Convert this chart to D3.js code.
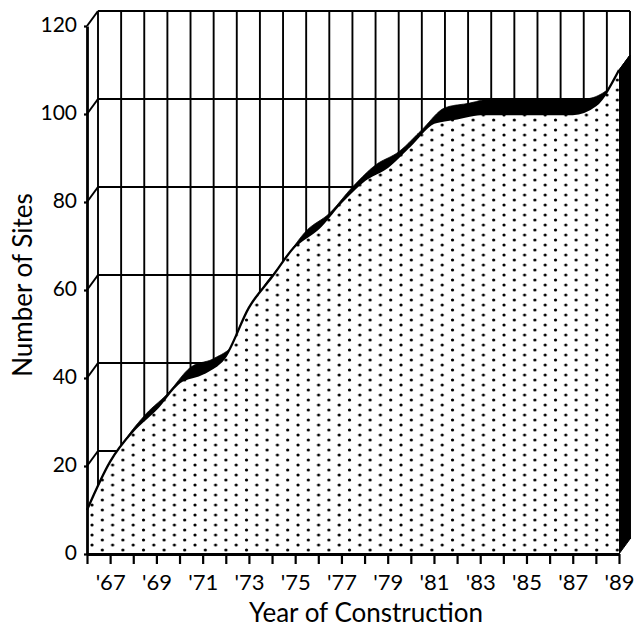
<!DOCTYPE html>
<html><head><meta charset="utf-8">
<script src="https://cdn.jsdelivr.net/npm/d3@7"></script>
<style>body{margin:0;background:#fff}</style>
</head><body>
<svg id="c" width="636" height="627"></svg>
<script>
// ---- data ----
const years = [1966,1967,1968,1969,1970,1971,1972,1973,1974,1975,1976,1977,1978,1979,1980,1981,1982,1983,1984,1985,1986,1987,1988,1989];
const sites = [10,21,28,33,39,41,45,56,63,70,74,80,85,88,93,98,99,100,100,100,100,100,102,110];
const yTicks = [0,20,40,60,80,100,120];
const xTickYears = years;
const xTitle = "Year of Construction";
const yTitle = "Number of Sites";

// ---- layout ----
const svg = d3.select("#c");
const FONT = "Lato, 'Open Sans', sans-serif";
const x = d3.scaleLinear().domain([1966,1989]).range([87,619]);
const y = d3.scaleLinear().domain([0,120]).range([554,26]);
const DX = 11, DY = -15;

// dot pattern
const defs = svg.append("defs");
const pat = defs.append("pattern").attr("id","dots").attr("patternUnits","userSpaceOnUse")
  .attr("width",20.6).attr("height",10).attr("x",90).attr("y",3);
pat.append("rect").attr("width",20.6).attr("height",10).attr("fill","#fff");
pat.append("circle").attr("cx",2).attr("cy",2).attr("r",1.6).attr("fill","#000");
pat.append("circle").attr("cx",12.3).attr("cy",7).attr("r",1.6).attr("fill","#000");

// back wall grid
const grid = svg.append("g").attr("stroke","#000").attr("fill","none");
years.forEach(t => {
  grid.append("line").attr("x1",x(t)+DX).attr("x2",x(t)+DX)
    .attr("y1",y(120)+DY).attr("y2",y(0)+DY).attr("stroke-width",1.9);
});
yTicks.filter(v=>v>0).forEach(v => {
  grid.append("line").attr("x1",x(1966)+DX).attr("x2",x(1989)+DX)
    .attr("y1",y(v)+DY).attr("y2",y(v)+DY).attr("stroke-width",2);
  grid.append("line").attr("x1",x(1966)).attr("x2",x(1966)+DX)
    .attr("y1",y(v)).attr("y2",y(v)+DY).attr("stroke-width",2);
});

// front curve
const pts = years.map((t,i)=>[x(t),y(sites[i])]);
const line = d3.line().curve(d3.curveMonotoneX);
const tmp = svg.append("path").attr("d",line(pts)).attr("fill","none").attr("stroke","none");
const node = tmp.node();
const L = node.getTotalLength();
const N = 600;
const samp = d3.range(N+1).map(i=>{const p=node.getPointAtLength(L*i/N);return [p.x,p.y];});
tmp.remove();

// top face (visible depth band)
const topPoly = samp.concat(samp.slice().reverse().map(p=>[p[0]+DX,p[1]+DY]));
svg.append("path").attr("d","M"+topPoly.map(p=>p.join(",")).join("L")+"Z")
  .attr("fill","#000").attr("stroke","#000").attr("stroke-width",0.8).attr("stroke-linejoin","round");

// right side face
const last = pts[pts.length-1];
svg.append("path").attr("d",
  `M${last[0]},${last[1]}L${x(1989)},${y(0)}L${x(1989)+DX},${y(0)+DY}L${last[0]+DX},${last[1]+DY}Z`)
  .attr("fill","#000").attr("stroke","#000").attr("stroke-width",1);

// front face
const area = d3.area().curve(d3.curveMonotoneX).y0(y(0));
svg.append("path").attr("d",area(pts)).attr("fill","url(#dots)");
svg.append("path").attr("d",line(pts)).attr("fill","none").attr("stroke","#000").attr("stroke-width",2.3);

// axes
const xAxis = d3.axisBottom(x).tickValues(xTickYears)
  .tickFormat(d => d%2 ? "'"+String(d).slice(2) : "")
  .tickSize(10).tickSizeOuter(0).tickPadding(10);
const gx = svg.append("g").attr("transform",`translate(0,${y(0)})`).call(xAxis);
gx.select(".domain").attr("stroke-width",2.8);
gx.selectAll(".tick line").attr("stroke-width",2.2);
gx.selectAll(".tick text").attr("font-family",FONT).attr("font-size",22).attr("fill","#000");

const yAxis = d3.axisLeft(y).tickValues(yTicks).tickSize(3).tickSizeOuter(0).tickPadding(7);
const gy = svg.append("g").attr("transform",`translate(${x(1966)},0)`).call(yAxis);
gy.select(".domain").attr("stroke-width",2.8);
gy.selectAll(".tick line").attr("stroke-width",2.2);
gy.selectAll(".tick text").attr("font-family",FONT).attr("font-size",21).attr("fill","#000")
  .attr("dy","0.28em");

// titles
svg.append("text").attr("x",366).attr("y",622).attr("text-anchor","middle")
  .attr("font-family",FONT).attr("font-size",26).text(xTitle);
svg.append("text").attr("transform","translate(32,285) rotate(-90)").attr("text-anchor","middle")
  .attr("font-family",FONT).attr("font-size",26).text(yTitle);
</script>
</body></html>
